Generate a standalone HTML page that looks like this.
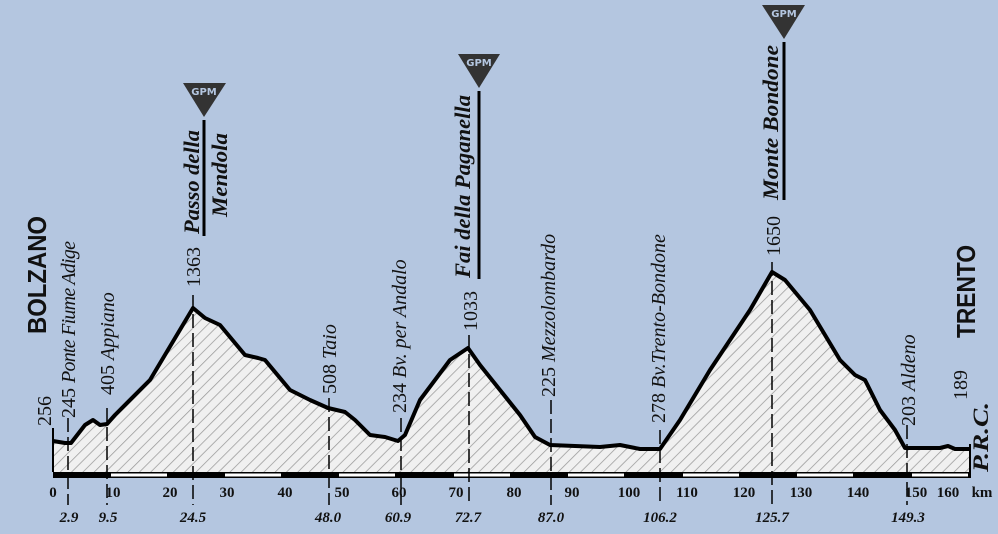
<!DOCTYPE html>
<html><head><meta charset="utf-8"><style>
html,body{margin:0;padding:0;background:#b4c6e0;}
svg{display:block;}
.s{font-family:"Liberation Serif",serif;font-size:20px;fill:#111;}
.i{font-style:italic;}
.b{font-family:"Liberation Sans",sans-serif;font-weight:bold;font-size:26px;fill:#111;}
.c{font-family:"Liberation Serif",serif;font-style:italic;font-weight:bold;font-size:22px;fill:#111;}
.t{font-family:"Liberation Serif",serif;font-size:15px;font-weight:bold;fill:#111;}
.ti{font-family:"Liberation Serif",serif;font-size:15px;font-style:italic;font-weight:bold;fill:#111;}
</style></head><body>
<svg width="998" height="534" viewBox="0 0 998 534" xmlns="http://www.w3.org/2000/svg">
<defs><pattern id="h" width="8" height="8" patternUnits="userSpaceOnUse" patternTransform="rotate(45)">
<rect width="8" height="8" fill="#f0f0f0"/><line x1="0" y1="0" x2="0" y2="8" stroke="#999" stroke-width="1.5"/></pattern></defs>
<rect width="998" height="534" fill="#b4c6e0"/>
<path d="M53,441 L65,443 L71,443 L85,425 L93,420 L100,425 L107,424 L115,415 L150,380 L193,308 L205,318 L220,325 L245,355 L258,358 L265,360 L290,390 L310,400 L328,408 L345,412 L355,420 L370,435 L385,437 L398,441 L405,435 L420,400 L450,360 L468,348 L480,365 L500,390 L520,415 L535,437 L550,445 L600,447 L620,445 L640,449 L660,449 L680,420 L710,370 L750,310 L772,272 L785,280 L810,310 L840,360 L855,375 L865,380 L880,410 L895,430 L905,448 L940,448 L948,446 L955,449 L970,449 L970,472 L53,472 Z" fill="url(#h)"/>
<path d="M53,441 L65,443 L71,443 L85,425 L93,420 L100,425 L107,424 L115,415 L150,380 L193,308 L205,318 L220,325 L245,355 L258,358 L265,360 L290,390 L310,400 L328,408 L345,412 L355,420 L370,435 L385,437 L398,441 L405,435 L420,400 L450,360 L468,348 L480,365 L500,390 L520,415 L535,437 L550,445 L600,447 L620,445 L640,449 L660,449 L680,420 L710,370 L750,310 L772,272 L785,280 L810,310 L840,360 L855,375 L865,380 L880,410 L895,430 L905,448 L940,448 L948,446 L955,449 L970,449" fill="none" stroke="#000" stroke-width="4" stroke-linejoin="round"/>
<line x1="53" y1="428" x2="53" y2="472" stroke="#000" stroke-width="2"/>
<line x1="970" y1="444" x2="970" y2="478" stroke="#000" stroke-width="2"/>
<g fill="#000"><rect x="53" y="472" width="917" height="6"/></g>
<g fill="#fff"><rect x="111" y="473.5" width="56" height="3"/><rect x="225" y="473.5" width="56" height="3"/><rect x="339" y="473.5" width="56" height="3"/><rect x="454" y="473.5" width="56" height="3"/><rect x="568" y="473.5" width="56" height="3"/><rect x="683" y="473.5" width="56" height="3"/><rect x="797" y="473.5" width="56" height="3"/><rect x="912" y="473.5" width="56" height="3"/></g>
<g stroke="#000" stroke-width="1.5" stroke-dasharray="14,5">
<line x1="68" y1="418" x2="68" y2="505"/><line x1="107" y1="408" x2="107" y2="505"/><line x1="193" y1="295" x2="193" y2="505"/>
<line x1="329" y1="398" x2="329" y2="505"/><line x1="401" y1="418" x2="401" y2="505"/><line x1="469" y1="335" x2="469" y2="505"/>
<line x1="551" y1="400" x2="551" y2="505"/><line x1="660" y1="430" x2="660" y2="505"/><line x1="772" y1="262" x2="772" y2="505"/>
<line x1="907" y1="425" x2="907" y2="505"/></g>
<g class="t" text-anchor="middle">
<text x="53" y="497">0</text><text x="113" y="497">10</text><text x="170" y="497">20</text><text x="227" y="497">30</text><text x="285" y="497">40</text><text x="342" y="497">50</text><text x="399" y="497">60</text><text x="456" y="497">70</text><text x="514" y="497">80</text><text x="572" y="497">90</text><text x="629" y="497">100</text><text x="687" y="497">110</text><text x="744" y="497">120</text><text x="801" y="497">130</text><text x="858" y="497">140</text><text x="916" y="497">150</text><text x="948" y="497">160</text><text x="982" y="497">km</text>
</g>
<g class="ti" text-anchor="middle">
<text x="69" y="522">2.9</text><text x="108" y="522">9.5</text><text x="193" y="522">24.5</text><text x="328" y="522">48.0</text><text x="398" y="522">60.9</text><text x="468" y="522">72.7</text><text x="551" y="522">87.0</text><text x="660" y="522">106.2</text><text x="772" y="522">125.7</text><text x="908" y="522">149.3</text>
</g>
<g class="s">
<text transform="translate(51,426) rotate(-90)">256</text>
<text transform="translate(75,418) rotate(-90)">245 <tspan class="i" textLength="142">Ponte Fiume Adige</tspan></text>
<text transform="translate(114,395) rotate(-90)">405 <tspan class="i">Appiano</tspan></text>
<text transform="translate(200,287) rotate(-90)">1363</text>
<text transform="translate(336,394) rotate(-90)">508 <tspan class="i">Taio</tspan></text>
<text transform="translate(406,413) rotate(-90)">234 <tspan class="i">Bv. per Andalo</tspan></text>
<text transform="translate(477,331) rotate(-90)">1033</text>
<text transform="translate(555,397) rotate(-90)">225 <tspan class="i">Mezzolombardo</tspan></text>
<text transform="translate(665,423) rotate(-90)">278 <tspan class="i">Bv.Trento-Bondone</tspan></text>
<text transform="translate(780,256) rotate(-90)">1650</text>
<text transform="translate(915,426) rotate(-90)">203 <tspan class="i">Aldeno</tspan></text>
<text transform="translate(967,400) rotate(-90)">189</text>
</g>
<text class="b" transform="translate(46,334) rotate(-90)" textLength="118" lengthAdjust="spacingAndGlyphs">BOLZANO</text>
<text class="b" transform="translate(975,338) rotate(-90)" textLength="93" lengthAdjust="spacingAndGlyphs">TRENTO</text>
<text class="c" transform="translate(988,472) rotate(-90)" textLength="70" lengthAdjust="spacingAndGlyphs">P.R.C.</text>
<text class="c" transform="translate(199,234) rotate(-90)" textLength="104" lengthAdjust="spacingAndGlyphs">Passo della</text>
<text class="c" transform="translate(227,217) rotate(-90)" textLength="84" lengthAdjust="spacingAndGlyphs">Mendola</text>
<text class="c" transform="translate(470,278) rotate(-90)" textLength="183" lengthAdjust="spacingAndGlyphs">Fai della Paganella</text>
<text class="c" transform="translate(778,200) rotate(-90)" textLength="155" lengthAdjust="spacingAndGlyphs">Monte Bondone</text>
<g stroke="#000" stroke-width="3">
<line x1="204" y1="120" x2="204" y2="236"/><line x1="479" y1="91" x2="479" y2="279"/><line x1="784" y1="42" x2="784" y2="200"/></g>
<g fill="#333"><polygon points="183,83 226,83 204,117"/><polygon points="458,54 500,54 479,88"/><polygon points="762,5 805,5 784,39"/></g>
<g font-family="'DejaVu Sans',sans-serif" font-size="10" font-weight="bold" fill="#b4c6e0" text-anchor="middle">
<text x="204" y="95">GPM</text><text x="479" y="66">GPM</text><text x="784" y="17">GPM</text></g>
</svg>
</body></html>
